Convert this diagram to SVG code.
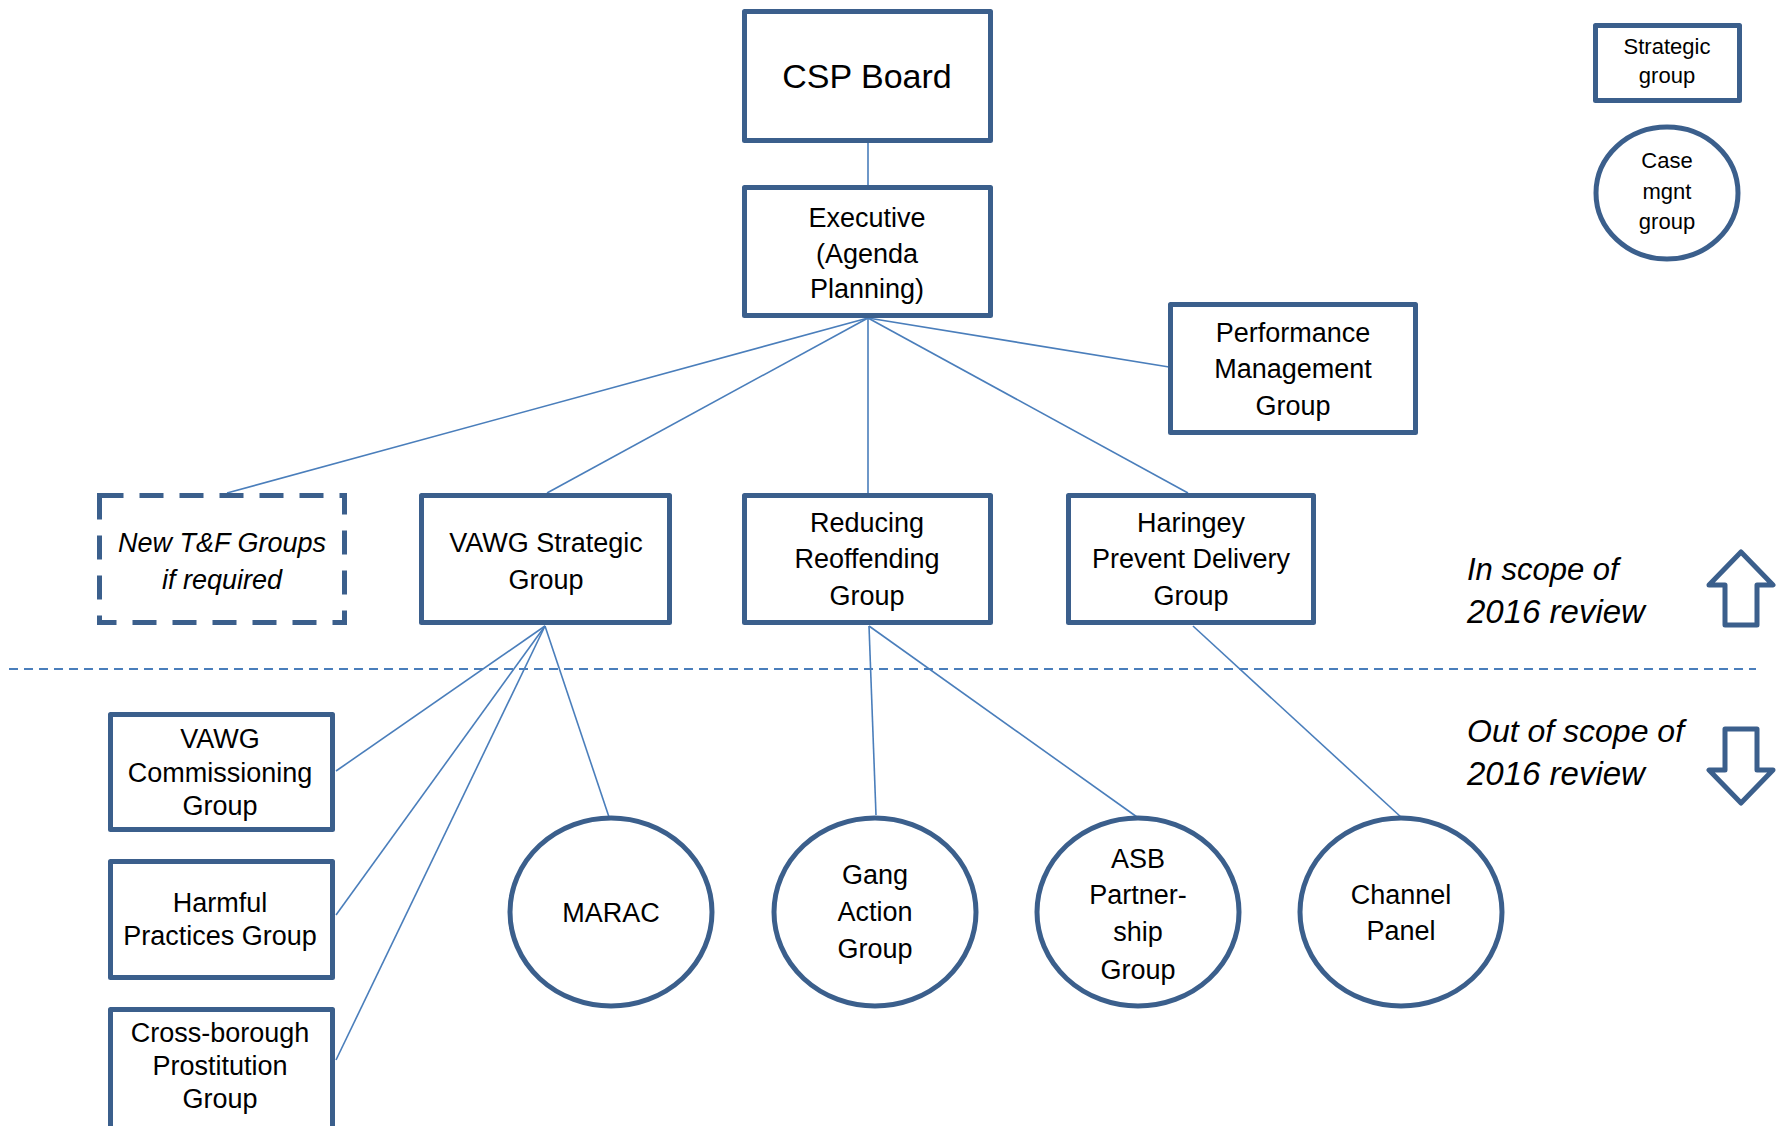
<svg xmlns="http://www.w3.org/2000/svg" width="1776" height="1126" viewBox="0 0 1776 1126">
<style>
.box{fill:#fff;stroke:#3b5f8c;stroke-width:5;stroke-linejoin:round}
.dash{fill:#fff;stroke:#3b5f8c;stroke-width:5;stroke-dasharray:24 16}
.t{font-family:"Liberation Sans",Arial,sans-serif;font-size:27px;fill:#000;text-anchor:middle}
.s{font-size:22px}
.i{font-style:italic}
.con line{stroke:#4a7ebb;stroke-width:1.6}
.lbl{font-family:"Liberation Sans",Arial,sans-serif;font-style:italic;font-size:31px;fill:#000}
.yr{font-size:33px}
</style>
<rect width="1776" height="1126" fill="#fff"/>
<g class="con" id="connectors">
<line x1="868" y1="143" x2="868" y2="185"/>
<line x1="868" y1="318" x2="227" y2="493"/>
<line x1="868" y1="318" x2="547" y2="493"/>
<line x1="868" y1="318" x2="868" y2="493"/>
<line x1="868" y1="318" x2="1188" y2="493"/>
<line x1="868" y1="318" x2="1169" y2="367"/>
<line x1="545" y1="626" x2="336" y2="771"/>
<line x1="545" y1="626" x2="336" y2="915"/>
<line x1="545" y1="626" x2="336" y2="1060"/>
<line x1="545" y1="626" x2="609" y2="817"/>
<line x1="869" y1="626" x2="876" y2="815"/>
<line x1="869" y1="626" x2="1137" y2="817"/>
<line x1="1193" y1="626" x2="1402" y2="818"/>
</g>
<g id="divider"><line x1="9" y1="669" x2="1756" y2="669" stroke="#4a7ebb" stroke-width="1.8" stroke-dasharray="9 6"/></g>
<g id="csp"><rect class="box" x="744.5" y="11.5" width="246" height="129"/><text class="t" x="867" y="88" style="font-size:34px">CSP Board</text></g>
<g id="exec"><rect class="box" x="744.5" y="187.5" width="246" height="128"/><text class="t" x="867" y="227">Executive</text><text class="t" x="867" y="263">(Agenda</text><text class="t" x="867" y="298">Planning)</text></g>
<g id="perf"><rect class="box" x="1170.5" y="304.5" width="245" height="128"/><text class="t" x="1293" y="342">Performance</text><text class="t" x="1293" y="378">Management</text><text class="t" x="1293" y="415">Group</text></g>
<g id="newtf"><rect class="dash" x="99.5" y="495.5" width="245" height="127"/><text class="t i" x="222" y="552">New T&amp;F Groups</text><text class="t i" x="222" y="589">if required</text></g>
<g id="vawg"><rect class="box" x="421.5" y="495.5" width="248" height="127"/><text class="t" x="546" y="552">VAWG Strategic</text><text class="t" x="546" y="589">Group</text></g>
<g id="reducing"><rect class="box" x="744.5" y="495.5" width="246" height="127"/><text class="t" x="867" y="532">Reducing</text><text class="t" x="867" y="568">Reoffending</text><text class="t" x="867" y="605">Group</text></g>
<g id="haringey"><rect class="box" x="1068.5" y="495.5" width="245" height="127"/><text class="t" x="1191" y="532">Haringey</text><text class="t" x="1191" y="568">Prevent Delivery</text><text class="t" x="1191" y="605">Group</text></g>
<g id="vawgcomm"><rect class="box" x="110.5" y="714.5" width="222" height="115"/><text class="t" x="220" y="748">VAWG</text><text class="t" x="220" y="782">Commissioning</text><text class="t" x="220" y="815">Group</text></g>
<g id="harmful"><rect class="box" x="110.5" y="861.5" width="222" height="116"/><text class="t" x="220" y="912">Harmful</text><text class="t" x="220" y="945">Practices Group</text></g>
<g id="cross"><rect class="box" x="110.5" y="1009.5" width="222" height="125"/><text class="t" x="220" y="1042">Cross-borough</text><text class="t" x="220" y="1075">Prostitution</text><text class="t" x="220" y="1108">Group</text></g>
<g id="marac"><ellipse class="box" cx="611" cy="912" rx="101" ry="94"/><text class="t" x="611" y="922">MARAC</text></g>
<g id="gang"><ellipse class="box" cx="875" cy="912" rx="101" ry="94"/><text class="t" x="875" y="884">Gang</text><text class="t" x="875" y="921">Action</text><text class="t" x="875" y="958">Group</text></g>
<g id="asb"><ellipse class="box" cx="1138" cy="912" rx="101" ry="94"/><text class="t" x="1138" y="868">ASB</text><text class="t" x="1138" y="904">Partner-</text><text class="t" x="1138" y="941">ship</text><text class="t" x="1138" y="979">Group</text></g>
<g id="channel"><ellipse class="box" cx="1401" cy="912" rx="101" ry="94"/><text class="t" x="1401" y="904">Channel</text><text class="t" x="1401" y="940">Panel</text></g>
<g id="legend-strategic"><rect class="box" x="1595.5" y="25.5" width="144" height="75"/><text class="t s" x="1667" y="54">Strategic</text><text class="t s" x="1667" y="83">group</text></g>
<g id="legend-case"><ellipse class="box" cx="1667" cy="193" rx="71" ry="66"/><text class="t s" x="1667" y="168">Case</text><text class="t s" x="1667" y="199">mgnt</text><text class="t s" x="1667" y="229">group</text></g>
<g id="inscope"><text class="lbl" x="1467" y="580">In scope of</text><text class="lbl yr" x="1467" y="623">2016 review</text>
<polygon class="box" points="1741,552 1773,585 1757,585 1757,625 1725,625 1725,585 1709,585"/></g>
<g id="outscope"><text class="lbl" x="1467" y="742" style="font-size:32px">Out of scope of</text><text class="lbl yr" x="1467" y="785">2016 review</text>
<polygon class="box" points="1725,729 1757,729 1757,770 1773,770 1741,803 1709,770 1725,770"/></g>
</svg>
